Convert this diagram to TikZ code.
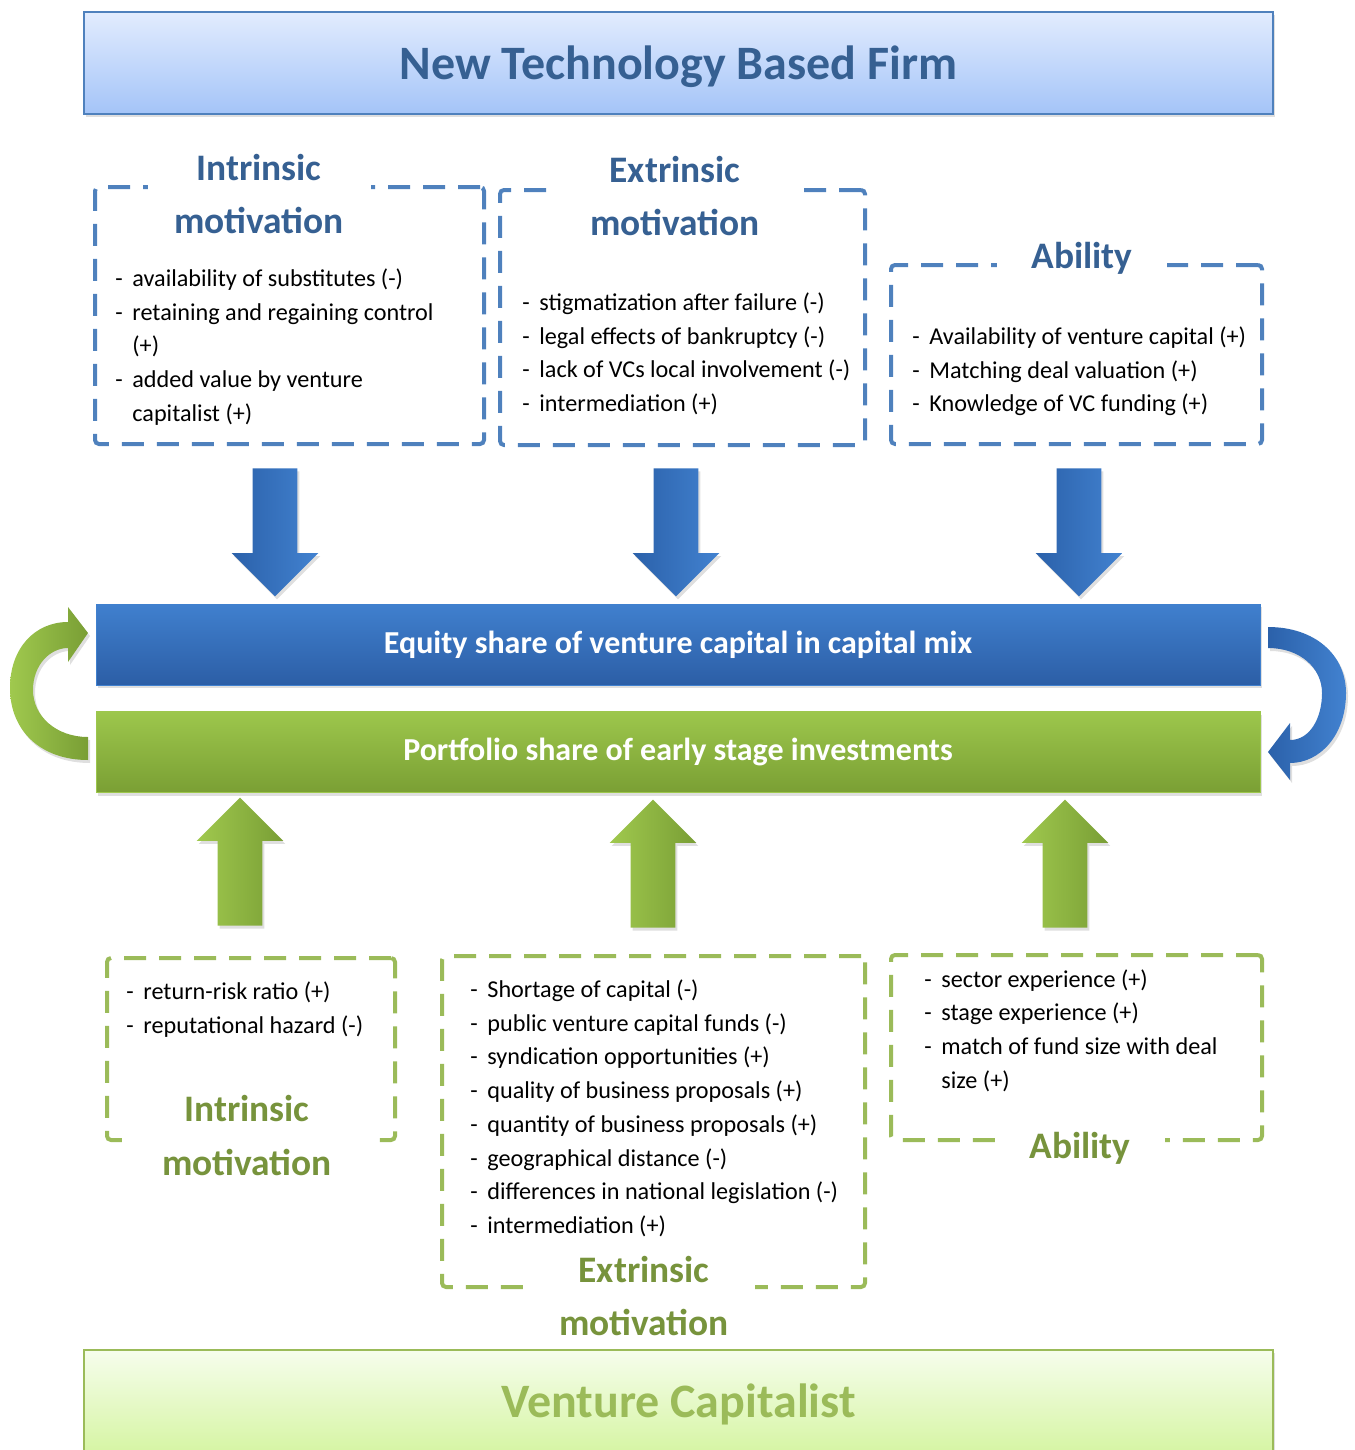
\documentclass[tikz,border=0pt]{standalone}
\usepackage{fontspec}
\setmainfont{Carlito}
\usepackage{xcolor}
\usetikzlibrary{positioning,shapes.arrows,shadows}

\definecolor{hdblue}{RGB}{54,96,146}
\definecolor{hdgreen}{RGB}{119,147,60}
\definecolor{dashblue}{RGB}{79,129,189}
\definecolor{dashgreen}{RGB}{155,187,89}
\definecolor{barblueT}{RGB}{64,128,206}
\definecolor{barblueB}{RGB}{44,94,166}
\definecolor{bargreenT}{RGB}{157,199,76}
\definecolor{bargreenB}{RGB}{122,159,52}
\definecolor{arrblueD}{RGB}{43,97,170}
\definecolor{arrblueL}{RGB}{66,130,208}
\definecolor{arrgreenL}{RGB}{160,201,78}
\definecolor{arrgreenD}{RGB}{121,158,53}

% list entries: dash, then text; \cont for a wrapped line
\newcommand{\itm}[1]{\strut\makebox[8.5pt][l]{-}#1}
\newcommand{\cont}[1]{\strut\hspace*{8.5pt}#1}

\begin{document}
\begin{tikzpicture}[x=0.5pt,y=-0.5pt,
  softshadow/.style={drop shadow={opacity=0.25,shadow xshift=1pt,shadow yshift=-1.5pt}},
  banner/.style={draw,line width=1pt,minimum width=594.5pt,minimum height=51pt,text depth=0pt,
    font=\fontsize{24}{29}\selectfont\bfseries,softshadow},
  bar/.style={draw,thin,minimum width=582pt,minimum height=40.5pt,text=white,
    font=\fontsize{16}{19}\selectfont\bfseries,softshadow},
  frame/.style={draw,line width=2pt,dash pattern=on 11pt off 6.5pt,rounded corners=2pt},
  heading/.style={fill=white,align=center,inner sep=2pt,
    font=\fontsize{18.7}{26.5}\selectfont\bfseries},
  items/.style={align=left,anchor=north west,inner sep=0pt,
    font=\fontsize{12.1}{16.85}\selectfont},
  blockarrow/.style={single arrow,anchor=tip,minimum height=64pt,inner sep=11pt,
    single arrow head extend=10.5pt,softshadow},
  downarrow/.style={blockarrow,shape border rotate=270,left color=arrblueD,right color=arrblueL},
  uparrow/.style={blockarrow,shape border rotate=90,left color=arrgreenL,right color=arrgreenD}]
\useasboundingbox (0,0) rectangle (1354,1450);

% firm and investor banners
\node[banner,draw=dashblue,top color={rgb,255:red,226;green,236;blue,254},
  bottom color={rgb,255:red,164;green,196;blue,248},text=hdblue] (firm) at (678.5,63) {New Technology Based Firm};
\node[banner,draw=dashgreen,top color={rgb,255:red,246;green,253;blue,236},
  bottom color={rgb,255:red,214;green,245;blue,164},text=dashgreen] (vc) at (678.5,1401) {Venture Capitalist};

% firm side factors
\node[frame,draw=dashblue,minimum width=194.5pt,minimum height=128.5pt] (fIntr) at (289.5,315.5) {};
\node[frame,draw=dashblue,minimum width=182.5pt,minimum height=127.5pt] (fExtr) at (682.5,317.5) {};
\node[frame,draw=dashblue,minimum width=185.5pt,minimum height=89.5pt] (fAbil) at (1076.5,354.5) {};
\node[heading,text=hdblue,minimum width=111.5pt] (hfIntr) at (259,194.5) {Intrinsic\\motivation};
\node[heading,text=hdblue,minimum width=119pt] (hfExtr) at (675,196) {Extrinsic\\motivation};
\node[heading,text=hdblue,minimum width=85pt] (hfAbil) at (1082,258) {Ability};
\node[items] (lfIntr) at (115,262.5) {\itm{availability of substitutes (-)}\\
  \itm{retaining and regaining control}\\ \cont{(+)}\\
  \itm{added value by venture}\\ \cont{capitalist (+)}};
\node[items] (lfExtr) at (522,286.5) {\itm{stigmatization after failure (-)}\\
  \itm{legal effects of bankruptcy (-)}\\ \itm{lack of VCs local involvement (-)}\\
  \itm{intermediation (+)}};
\node[items] (lfAbil) at (912,320.5) {\itm{Availability of venture capital (+)}\\
  \itm{Matching deal valuation (+)}\\ \itm{Knowledge of VC funding (+)}};

% arrows into the central bars
\node[downarrow] (dIntr) at (275,597) {};
\node[downarrow] (dExtr) at (676,597) {};
\node[downarrow] (dAbil) at (1079,597) {};
\node[uparrow] (uIntr) at (240,797) {};
\node[uparrow] (uExtr) at (653,799) {};
\node[uparrow] (uAbil) at (1065,799) {};

\node[bar,draw=barblueT,top color=barblueT,bottom color=barblueB] (equity) at (678,644.5)
  {Equity share of venture capital in capital mix};
\node[bar,draw=bargreenT,top color=bargreenT,bottom color=bargreenB] (early) at (678,752)
  {Portfolio share of early stage investments};

% loop between the two bars
\path[softshadow,left color=arrgreenL,right color=arrgreenD]
  (88,760) .. controls (40,760) and (10,730) .. (10,688)
  .. controls (10,648) and (35,622) .. (68,622) -- (68,607) -- (88,633) -- (68,662) -- (68,648)
  .. controls (50,648) and (33,665) .. (33,690) .. controls (33,716) and (56,737) .. (88,737) -- cycle;
\path[softshadow,left color=arrblueD,right color=arrblueL]
  (1268,627) .. controls (1315,627) and (1346,655) .. (1346,693)
  .. controls (1346,735) and (1320,763) .. (1290,763) -- (1290,780) -- (1268,752) -- (1290,723) -- (1290,740)
  .. controls (1310,740) and (1322,718) .. (1322,693) .. controls (1322,668) and (1300,648) .. (1268,648) -- cycle;

% investor side factors
\node[frame,draw=dashgreen,minimum width=144pt,minimum height=91pt] (vIntr) at (251,1049) {};
\node[frame,draw=dashgreen,minimum width=211.5pt,minimum height=165.5pt] (vExtr) at (653.5,1121.5) {};
\node[frame,draw=dashgreen,minimum width=185.5pt,minimum height=92.5pt] (vAbil) at (1076.5,1047.5) {};
\node[heading,text=hdgreen,minimum width=120pt] (hvIntr) at (247,1135.5) {Intrinsic\\motivation};
\node[heading,text=hdgreen,minimum width=111pt] (hvExtr) at (644,1295.5) {Extrinsic\\motivation};
\node[heading,text=hdgreen,minimum width=85pt] (hvAbil) at (1080,1148) {Ability};
\node[items] (lvIntr) at (126,975.5) {\itm{return-risk ratio (+)}\\ \itm{reputational hazard (-)}};
\node[items] (lvExtr) at (470,973.5) {\itm{Shortage of capital (-)}\\
  \itm{public venture capital funds (-)}\\ \itm{syndication opportunities (+)}\\
  \itm{quality of business proposals (+)}\\ \itm{quantity of business proposals (+)}\\
  \itm{geographical distance (-)}\\ \itm{differences in national legislation (-)}\\
  \itm{intermediation (+)}};
\node[items] (lvAbil) at (924,963) {\itm{sector experience (+)}\\ \itm{stage experience (+)}\\
  \itm{match of fund size with deal}\\ \cont{size (+)}};
\end{tikzpicture}
\end{document}
